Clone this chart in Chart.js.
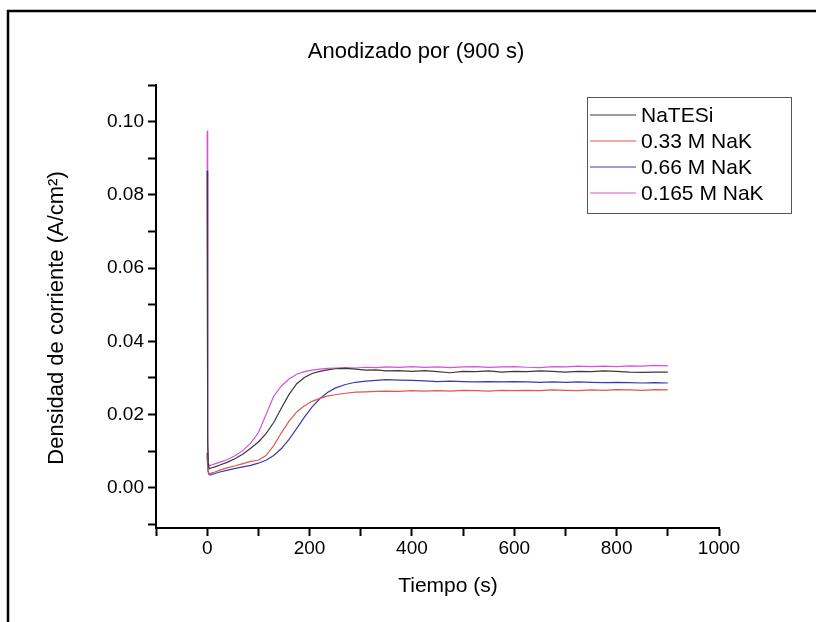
<!DOCTYPE html>
<html>
<head>
<meta charset="utf-8">
<script src="https://cdn.jsdelivr.net/npm/chart.js@4.4.0/dist/chart.umd.min.js"></script>
<style>
  html, body { margin: 0; padding: 0; background: #fff; }
</style>
</head>
<body>
<canvas id="myChart" width="816" height="622"></canvas>
<script>
// Tiempo (s) - same time base for all four curves
var tiempo = [0, 1, 2, 4, 8, 15, 25, 40, 55, 70, 85, 100, 115, 130, 145, 160, 175, 190, 205, 220,
  235, 250, 270, 290, 310, 330, 350, 375, 400, 425, 450, 475, 500, 525, 550, 575, 600, 625,
  650, 675, 700, 725, 750, 775, 800, 825, 850, 875, 900];

// Densidad de corriente (A/cm2)
var natesi = [0.0866, 0.012, 0.0065, 0.0052, 0.0054, 0.0057, 0.0062, 0.0070, 0.0080, 0.0092,
  0.0108, 0.0125, 0.0148, 0.0178, 0.0218, 0.0255, 0.0284, 0.0301, 0.0312, 0.0318,
  0.0322, 0.0325, 0.0326, 0.0324, 0.0321, 0.0322, 0.0319, 0.0320, 0.0318, 0.0320,
  0.0317, 0.0314, 0.0318, 0.0317, 0.0319, 0.0316, 0.0318, 0.0317, 0.0319, 0.0318,
  0.0316, 0.0318, 0.0317, 0.0319, 0.0318, 0.0316, 0.0315, 0.0316, 0.0316];

var nak033 = [0.0085, 0.0060, 0.0045, 0.0038, 0.0040, 0.0043, 0.0048, 0.0055, 0.0060, 0.0066,
  0.0072, 0.0075, 0.0088, 0.0115, 0.0150, 0.0182, 0.0207, 0.0224, 0.0236, 0.0244,
  0.0250, 0.0254, 0.0258, 0.0261, 0.0262, 0.0263, 0.0264, 0.0263, 0.0265, 0.0264,
  0.0265, 0.0264, 0.0266, 0.0265, 0.0264, 0.0266, 0.0265, 0.0266, 0.0265, 0.0267,
  0.0266, 0.0265, 0.0267, 0.0266, 0.0268, 0.0267, 0.0266, 0.0268, 0.0267];

var nak066 = [0.0095, 0.0060, 0.0042, 0.0035, 0.0036, 0.0039, 0.0043, 0.0048, 0.0053, 0.0057,
  0.0061, 0.0067, 0.0075, 0.0088, 0.0107, 0.0132, 0.0162, 0.0193, 0.0221, 0.0243,
  0.0260, 0.0272, 0.0282, 0.0288, 0.0291, 0.0293, 0.0295, 0.0294, 0.0293, 0.0292,
  0.0290, 0.0291, 0.0290, 0.0289, 0.0290, 0.0289, 0.0290, 0.0289, 0.0288, 0.0289,
  0.0288, 0.0289, 0.0288, 0.0287, 0.0288, 0.0287, 0.0286, 0.0287, 0.0286];

var nak0165 = [0.0975, 0.0150, 0.0070, 0.0060, 0.0062, 0.0065, 0.0070, 0.0077, 0.0088, 0.0102,
  0.0122, 0.0150, 0.0200, 0.0250, 0.0278, 0.0297, 0.0310, 0.0317, 0.0321, 0.0324,
  0.0326, 0.0327, 0.0328, 0.0327, 0.0329, 0.0328, 0.0330, 0.0329, 0.0331, 0.0329,
  0.0330, 0.0328, 0.0330, 0.0331, 0.0329, 0.0330, 0.0331, 0.0329, 0.0328, 0.0331,
  0.0330, 0.0332, 0.0331, 0.0332, 0.0331, 0.0333, 0.0332, 0.0334, 0.0333];

var series = ["NaTESi", "0.33 M NaK", "0.66 M NaK", "0.165 M NaK"];
var colores = ["#3a3a3a", "#e0574c", "#3b3bae", "#d652dc"];

// etiquetas de los ejes
var etiquetasX = [0, 200, 400, 600, 800, 1000];
var etiquetasY = ["0.00", "0.02", "0.04", "0.06", "0.08", "0.10"];

function puntos(valores) {
  var out = [];
  for (var i = 0; i < tiempo.length; i++) {
    out.push({ x: tiempo[i], y: valores[i] });
  }
  return out;
}

var FONT = "'Liberation Sans', Arial, sans-serif";

// marco, titulos, etiquetas y leyenda dibujados a mano (estilo Origin)
var extras = {
  id: "extras",
  beforeDraw: function (chart) {
    var ctx = chart.ctx;
    ctx.save();
    ctx.fillStyle = "#fff";
    ctx.fillRect(0, 0, chart.width, chart.height);
    ctx.strokeStyle = "#000";
    ctx.lineWidth = 2.5;
    ctx.beginPath();
    ctx.moveTo(8, 622);
    ctx.lineTo(8, 11);
    ctx.lineTo(816, 11);
    ctx.stroke();
    ctx.restore();
  },
  afterDraw: function (chart) {
    var ctx = chart.ctx;
    var xs = chart.scales.x, ys = chart.scales.y;
    ctx.save();
    ctx.fillStyle = "#000";
    ctx.textBaseline = "middle";

    ctx.font = "22px " + FONT;
    ctx.textAlign = "center";
    ctx.fillText("Anodizado por (900 s)", 416, 52);

    // etiquetas de ticks
    ctx.font = "19px " + FONT;
    etiquetasX.forEach(function (v) {
      ctx.fillText(String(v), xs.getPixelForValue(v), 549);
    });
    ctx.textAlign = "right";
    etiquetasY.forEach(function (s) {
      ctx.fillText(s, 144, ys.getPixelForValue(parseFloat(s)));
    });

    // titulos de ejes
    ctx.textAlign = "center";
    ctx.font = "21px " + FONT;
    ctx.fillText("Tiempo (s)", 448, 586);
    ctx.save();
    ctx.translate(57, 318);
    ctx.rotate(-Math.PI / 2);
    ctx.font = "22px " + FONT;
    ctx.fillText("Densidad de corriente (A/cm²)", 0, 0);
    ctx.restore();

    // leyenda
    ctx.strokeStyle = "#555";
    ctx.lineWidth = 1;
    ctx.strokeRect(587.5, 97.5, 204, 116);
    ctx.font = "21px " + FONT;
    ctx.textAlign = "left";
    chart.data.datasets.forEach(function (ds, i) {
      var y = 115 + i * 26;
      ctx.strokeStyle = ds.borderColor;
      ctx.lineWidth = 1.2;
      ctx.beginPath();
      ctx.moveTo(590, y);
      ctx.lineTo(636, y);
      ctx.stroke();
      ctx.fillStyle = "#000";
      ctx.fillText(ds.label, 641, y + 1);
    });
    ctx.restore();
  }
};

var ctx = document.getElementById("myChart").getContext("2d");

var myChart = new Chart(ctx, {
  type: "line",
  data: {
    datasets: series.map(function (nombre, i) {
      return {
        label: nombre,
        data: puntos([natesi, nak033, nak066, nak0165][i]),
        borderColor: colores[i],
        borderWidth: 1.2,
        pointRadius: 0,
        tension: 0,
        fill: false
      };
    })
  },
  options: {
    responsive: false,
    animation: false,
    layout: { padding: { left: 0, right: 97, top: 85, bottom: 0 } },
    plugins: {
      legend: { display: false },
      tooltip: { enabled: false }
    },
    scales: {
      x: {
        type: "linear",
        min: -100,
        max: 1000,
        afterFit: function (scale) { scale.height = 94; },
        afterBuildTicks: function (scale) {
          var t = [];
          for (var k = -1; k <= 10; k++) t.push({ value: k * 100 });
          scale.ticks = t;
        },
        border: { display: true, color: "#000", width: 2 },
        grid: { drawOnChartArea: false, drawTicks: true, tickLength: 8, tickColor: "#000", tickWidth: 2 },
        ticks: { display: false }
      },
      y: {
        type: "linear",
        min: -0.011,
        max: 0.11,
        afterFit: function (scale) { scale.width = 156; },
        afterBuildTicks: function (scale) {
          var t = [];
          for (var k = -1; k <= 11; k++) t.push({ value: k / 100 });
          scale.ticks = t;
        },
        border: { display: true, color: "#000", width: 2 },
        grid: { drawOnChartArea: false, drawTicks: true, tickLength: 8, tickColor: "#000", tickWidth: 2 },
        ticks: { display: false }
      }
    }
  },
  plugins: [extras]
});
</script>
</body>
</html>
